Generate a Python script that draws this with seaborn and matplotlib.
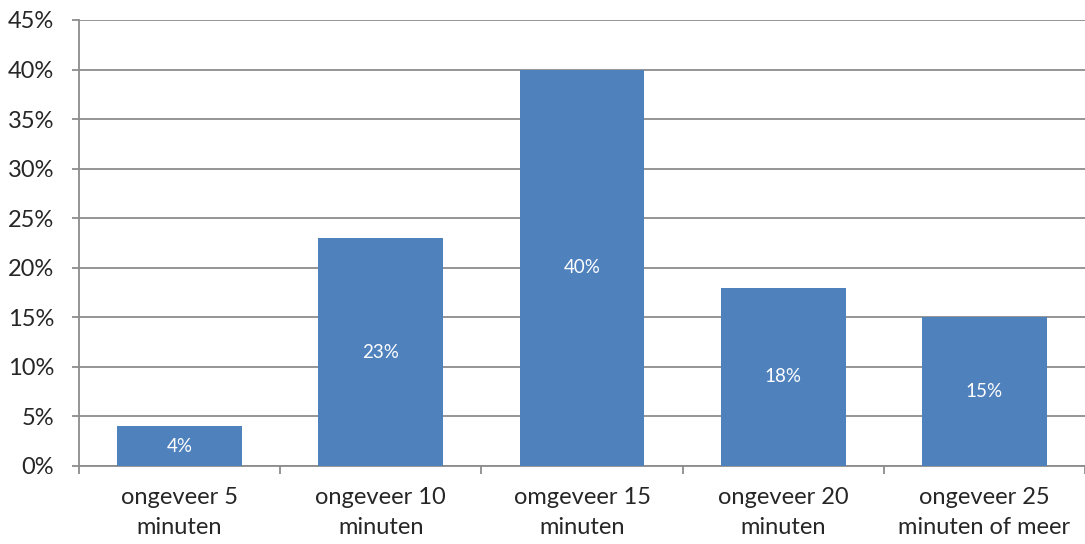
import matplotlib
matplotlib.use("Agg")
import matplotlib.pyplot as plt
import seaborn as sns
import pandas as pd
from matplotlib.ticker import FuncFormatter, MultipleLocator

categories = ["ongeveer 5\nminuten", "ongeveer 10\nminuten", "omgeveer 15\nminuten",
              "ongeveer 20\nminuten", "ongeveer 25\nminuten of meer"]
values = [4, 23, 40, 18, 15]
labels = ["4%", "23%", "40%", "18%", "15%"]

sns.set_style("white")
plt.rcParams['font.family'] = ['Lato', 'DejaVu Sans']

df = pd.DataFrame({"cat": categories, "val": values})

fig = plt.figure(figsize=(10.85, 5.44), dpi=100)
ax = fig.add_axes([79/1085, 1 - 466/544, 1 - 79/1085, (466 - 20)/544])

sns.barplot(data=df, x="cat", y="val", color="#4F81BD", saturation=1, width=0.62, ax=ax,
            zorder=3, linewidth=0, edgecolor="none")

for i, (v, lab) in enumerate(zip(values, labels)):
    ax.text(i, v / 2, lab, ha="center", va="center", color="white", fontsize=13.5, zorder=4)

ax.set_ylim(0, 45)
ax.set_xlim(-0.5, len(categories) - 0.5)
ax.yaxis.set_major_locator(MultipleLocator(5))
ax.yaxis.set_major_formatter(FuncFormatter(lambda y, p: f"{int(round(y))}%"))
ax.grid(axis="y", color="#8c8c8c", linewidth=1.3, zorder=0)
ax.set_axisbelow(True)
ax.set_xlabel("")
ax.set_ylabel("")

for s in ["top", "right"]:
    ax.spines[s].set_visible(False)
ax.spines["left"].set_color("#8c8c8c")
ax.spines["left"].set_linewidth(1.3)
ax.spines["bottom"].set_color("#8c8c8c")
ax.spines["bottom"].set_linewidth(1.3)

ax.tick_params(axis="y", which="major", length=5, width=1.3, color="#8c8c8c", direction="out",
               labelsize=17, pad=13, left=True)
ax.set_xticks([p + 0.5 for p in range(-1, len(categories))], minor=False)
ax.set_xticklabels([])
ax.tick_params(axis="x", which="major", length=6, width=1.3, color="#8c8c8c", direction="out", bottom=True)
ax.set_xticks(range(len(categories)), minor=True)
ax.set_xticklabels(categories, minor=True, fontsize=17, linespacing=1.55)
ax.tick_params(axis="x", which="minor", length=0, pad=15)

fig.savefig("out.png", dpi=100)
